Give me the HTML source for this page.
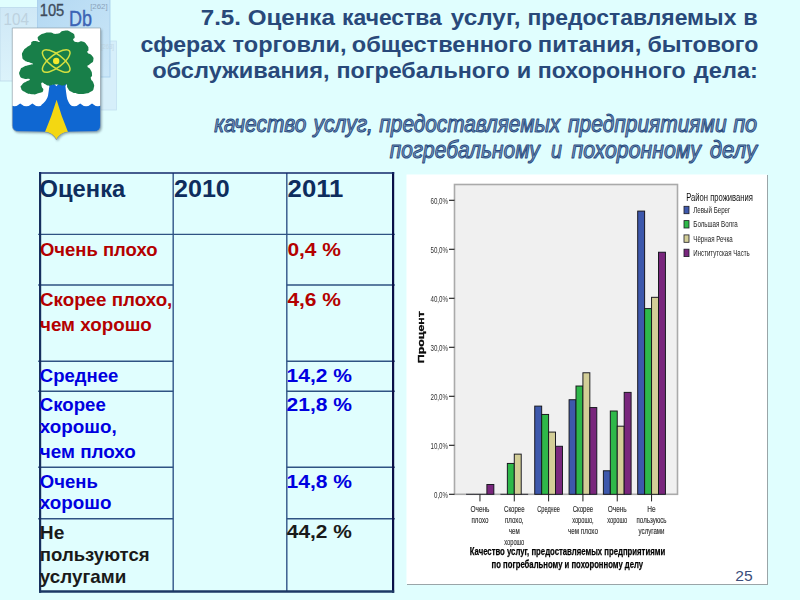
<!DOCTYPE html>
<html><head><meta charset="utf-8"><title>Slide 25</title>
<style>
html,body{margin:0;padding:0;background:#e0fefe;}
body{width:800px;height:600px;overflow:hidden;font-family:"Liberation Sans",sans-serif;}
svg{display:block;font-family:"Liberation Sans",sans-serif;}
</style></head><body>
<svg width="800" height="600" viewBox="0 0 800 600">
<defs>
<linearGradient id="t2" x1="0" y1="0" x2="1" y2="1"><stop offset="0" stop-color="#b3d8f2"/><stop offset="1" stop-color="#cbe7f8"/></linearGradient>
<linearGradient id="t1" x1="0" y1="0" x2="0" y2="1"><stop offset="0" stop-color="#cfe8f6"/><stop offset="1" stop-color="#dcf3fb"/></linearGradient>
<filter id="b3" x="-5%" y="-5%" width="110%" height="110%"><feGaussianBlur stdDeviation="0.35"/></filter>
<filter id="b5" x="-5%" y="-5%" width="110%" height="110%"><feGaussianBlur stdDeviation="0.5"/></filter>
<filter id="sh" x="-10%" y="-10%" width="125%" height="125%"><feGaussianBlur stdDeviation="1.2"/></filter>
</defs>
<rect width="800" height="600" fill="#e0fefe"/>

<g id="tiles">
<rect x="0" y="7.5" width="38" height="73.5" fill="url(#t1)" stroke="#bcd9ec" stroke-width="0.8"/>
<rect x="100" y="41" width="16.5" height="69" fill="#d6effa" stroke="#c4e0f0" stroke-width="0.8"/>
<rect x="37.5" y="-1" width="72.5" height="78" fill="url(#t2)" stroke="#a6cdeb" stroke-width="0.8"/>

<text x="3.6" y="24.6" font-size="17" font-weight="normal" font-style="normal" fill="#bdd2df" text-anchor="start" textLength="25.5" lengthAdjust="spacingAndGlyphs">104</text>
<text x="39.8" y="16" font-size="17" font-weight="normal" font-style="normal" fill="#3e4b5c" text-anchor="start" textLength="24.5" lengthAdjust="spacingAndGlyphs" stroke="#3e4b5c" stroke-width="0.35">105</text>
<text x="69" y="26" font-size="21.5" font-weight="normal" font-style="normal" fill="#3c63b4" text-anchor="start" textLength="23" lengthAdjust="spacingAndGlyphs" stroke="#3c63b4" stroke-width="0.4">Db</text>
<text x="90.2" y="9" font-size="7.5" font-weight="normal" font-style="normal" fill="#8ba3bb" text-anchor="start" textLength="17.5" lengthAdjust="spacingAndGlyphs">[262]</text>
<text x="101" y="49" font-size="6.5" font-weight="normal" font-style="normal" fill="#c0d6e4" text-anchor="start" textLength="13" lengthAdjust="spacingAndGlyphs">[263]</text>
</g>
<g id="arms">
<path d="M12.3 28 H100.5 V125.5 Q100.5 131.4 94 131.6 L68.5 131.9 Q60 132.6 56.4 139.8 Q52.8 132.6 44.3 131.9 L19 131.6 Q12.3 131.4 12.3 125.5 Z" fill="#5d7480" opacity="0.6" filter="url(#sh)" transform="translate(1.2,1.4)"/>
<clipPath id="shc"><path d="M12.3 28 H100.5 V125.5 Q100.5 131.4 94 131.6 L68.5 131.9 Q60 132.6 56.4 139.8 Q52.8 132.6 44.3 131.9 L19 131.6 Q12.3 131.4 12.3 125.5 Z"/></clipPath>
<g clip-path="url(#shc)">
<rect x="10" y="26" width="92" height="116" fill="#ffffff"/>
<path d="M8.2 103.4 Q14.20 108.9 20.2 103.4 Q26.30 108.9 32.4 103.4 Q38.40 108.9 44.4 103.4 L68.4 103.4  Q74.30 108.9 80.2 103.4 Q86.10 108.9 92 103.4 Q98.00 108.9 104 103.4 V142 H8.2 Z" fill="#0f67d2"/>
<path d="M49.4 86 Q48.6 92 48 95.7 Q47 100.5 40.5 105.8 L70.8 105.8 Q67.3 100.5 66.8 96.9 Q66 92 65.4 86 L68.5 81 L66.6 80.2 L62 85 L58.8 83.6 L56.4 86.3 L54 83.6 L51.4 85 L46.6 80.2 L44.8 81 Z" fill="#0f67d2"/>
<path d="M56.6 99.8 Q61.5 117 68 131.95 Q60 132.6 56.4 139.8 Q52.8 132.6 45 131.95 Q51.5 117 56.6 99.8 Z" fill="#f3d712"/>
</g>
<path d="M49.81 32.56 C54.22 32.68 52.21 34.40 57.02 33.76 C61.82 33.12 59.42 31.04 64.22 30.64 C69.02 30.24 67.94 30.64 71.42 32.56 C74.90 34.48 74.02 33.92 74.66 36.40 C75.30 38.88 72.42 38.08 73.34 40.00 C74.26 41.93 74.46 41.65 77.42 42.17 C80.39 42.69 79.03 40.57 82.23 41.57 C85.43 42.57 84.95 42.49 87.03 45.17 C89.11 47.85 88.31 47.13 88.47 49.61 C88.63 52.09 86.39 50.61 87.51 52.61 C88.63 54.61 89.91 53.01 91.83 55.61 C93.75 58.21 93.87 57.61 93.27 60.41 C92.67 63.21 91.95 62.01 90.03 64.01 C88.11 66.02 87.39 64.61 87.51 66.42 C87.63 68.22 88.87 66.62 90.39 69.42 C91.91 72.22 91.91 71.82 92.07 74.82 C92.23 77.82 90.47 75.82 90.87 78.42 C91.27 81.02 92.31 79.42 93.27 82.62 C94.23 85.82 94.63 84.94 93.75 88.02 C92.87 91.11 93.67 89.98 90.63 91.87 C87.59 93.75 89.03 93.07 84.63 93.67 C80.23 94.27 81.83 94.27 77.42 93.67 C73.02 93.07 74.62 93.67 71.42 91.87 C68.22 90.06 69.50 90.83 67.82 88.26 C66.14 85.70 67.98 85.14 66.38 84.18 C64.78 83.22 66.54 85.30 63.02 85.38 C59.50 85.46 60.62 84.42 55.82 84.42 C51.01 84.42 52.13 85.46 48.61 85.38 C45.09 85.30 47.45 85.10 45.25 84.18 C43.05 83.26 43.21 81.94 42.01 82.62 C40.81 83.30 41.25 83.62 41.65 86.22 C42.05 88.82 44.09 88.14 43.21 90.42 C42.33 92.71 42.81 91.79 39.01 93.07 C35.21 94.35 36.61 94.67 31.81 94.27 C27.00 93.87 28.21 93.95 24.60 91.87 C21.00 89.78 21.80 90.51 21.00 88.02 C20.20 85.54 20.40 86.58 22.20 84.42 C24.00 82.26 23.92 83.30 26.40 81.54 C28.89 79.78 30.57 80.18 29.65 79.14 C28.73 78.10 26.92 79.66 23.64 78.42 C20.36 77.18 20.92 78.22 19.80 75.42 C18.68 72.62 19.08 72.82 20.28 70.02 C21.48 67.22 20.76 68.62 23.40 67.02 C26.04 65.41 25.08 66.22 28.21 65.21 C31.33 64.21 32.45 64.97 32.77 64.01 C33.09 63.05 31.89 63.53 29.17 62.33 C26.44 61.13 26.92 62.45 24.60 60.41 C22.28 58.37 22.60 59.41 22.20 56.21 C21.80 53.01 21.80 53.81 23.40 50.81 C25.00 47.81 24.60 49.21 27.00 47.21 C29.41 45.21 29.01 46.61 30.61 44.81 C32.21 43.01 30.21 43.09 31.81 41.81 C33.41 40.53 32.81 40.93 35.41 40.97 C38.01 41.01 38.81 42.65 39.61 41.93 C40.41 41.21 37.93 40.85 37.81 38.80 C37.69 36.76 37.25 37.60 39.25 35.80 C41.25 34.00 40.29 34.48 43.81 33.40 C47.33 32.32 45.41 32.44 49.81 32.56 Z" fill="#187f49"/>
<g fill="none" stroke="#d3e040" stroke-width="1.5">
<ellipse cx="56.2" cy="61" rx="16.6" ry="6.4" transform="rotate(37 56.2 61)"/>
<ellipse cx="56.2" cy="61" rx="16.6" ry="6.4" transform="rotate(-37 56.2 61)"/>
</g>
<circle cx="56.2" cy="61" r="3.2" fill="#f3ea2e"/>
<path d="M12.3 28 H100.5 V125.5 Q100.5 131.4 94 131.6 L68.5 131.9 Q60 132.6 56.4 139.8 Q52.8 132.6 44.3 131.9 L19 131.6 Q12.3 131.4 12.3 125.5 Z" fill="none" stroke="#8799a3" stroke-width="0.6"/>
</g>

<g id="title">
<text x="200.74" y="24.8" font-size="22.5" font-weight="bold" font-style="normal" fill="#28497a" text-anchor="start" textLength="134.1" lengthAdjust="spacingAndGlyphs">7.5. Оценка</text>
<text x="342.02" y="24.8" font-size="22.5" font-weight="bold" font-style="normal" fill="#28497a" text-anchor="start" textLength="99.82" lengthAdjust="spacingAndGlyphs">качества</text>
<text x="450.83" y="24.8" font-size="22.5" font-weight="bold" font-style="normal" fill="#28497a" text-anchor="start" textLength="69.8" lengthAdjust="spacingAndGlyphs">услуг,</text>
<text x="527.42" y="24.8" font-size="22.5" font-weight="bold" font-style="normal" fill="#28497a" text-anchor="start" textLength="208.98" lengthAdjust="spacingAndGlyphs">предоставляемых</text>
<text x="743.38" y="24.8" font-size="22.5" font-weight="bold" font-style="normal" fill="#28497a" text-anchor="start" textLength="14.43" lengthAdjust="spacingAndGlyphs">в</text>
<text x="140.4" y="51.9" font-size="22.5" font-weight="bold" font-style="normal" fill="#28497a" text-anchor="start" textLength="85.47" lengthAdjust="spacingAndGlyphs">сферах</text>
<text x="232.54" y="51.9" font-size="22.5" font-weight="bold" font-style="normal" fill="#28497a" text-anchor="start" textLength="114.03" lengthAdjust="spacingAndGlyphs">торговли,</text>
<text x="351.88" y="51.9" font-size="22.5" font-weight="bold" font-style="normal" fill="#28497a" text-anchor="start" textLength="180.28" lengthAdjust="spacingAndGlyphs">общественного</text>
<text x="537.75" y="51.9" font-size="22.5" font-weight="bold" font-style="normal" fill="#28497a" text-anchor="start" textLength="103.59" lengthAdjust="spacingAndGlyphs">питания,</text>
<text x="647.46" y="51.9" font-size="22.5" font-weight="bold" font-style="normal" fill="#28497a" text-anchor="start" textLength="110.84" lengthAdjust="spacingAndGlyphs">бытового</text>
<text x="152.18" y="78.2" font-size="22.5" font-weight="bold" font-style="normal" fill="#28497a" text-anchor="start" textLength="177.49" lengthAdjust="spacingAndGlyphs">обслуживания,</text>
<text x="336.49" y="78.2" font-size="22.5" font-weight="bold" font-style="normal" fill="#28497a" text-anchor="start" textLength="173.16" lengthAdjust="spacingAndGlyphs">погребального</text>
<text x="516.87" y="78.2" font-size="22.5" font-weight="bold" font-style="normal" fill="#28497a" text-anchor="start" textLength="14.5" lengthAdjust="spacingAndGlyphs">и</text>
<text x="537.8" y="78.2" font-size="22.5" font-weight="bold" font-style="normal" fill="#28497a" text-anchor="start" textLength="147.84" lengthAdjust="spacingAndGlyphs">похоронного</text>
<text x="693.86" y="78.2" font-size="22.5" font-weight="bold" font-style="normal" fill="#28497a" text-anchor="start" textLength="64.01" lengthAdjust="spacingAndGlyphs">дела:</text>
</g>
<g id="sub">
<text x="214.27" y="131.8" font-size="23" font-weight="normal" font-style="italic" fill="#809dbf" text-anchor="start" textLength="92.08" lengthAdjust="spacingAndGlyphs" stroke="#294b7f" stroke-width="1.0" stroke-linejoin="round">качество</text>
<text x="313.6" y="131.8" font-size="23" font-weight="normal" font-style="italic" fill="#809dbf" text-anchor="start" textLength="59.23" lengthAdjust="spacingAndGlyphs" stroke="#294b7f" stroke-width="1.0" stroke-linejoin="round">услуг,</text>
<text x="379.37" y="131.8" font-size="23" font-weight="normal" font-style="italic" fill="#809dbf" text-anchor="start" textLength="180.82" lengthAdjust="spacingAndGlyphs" stroke="#294b7f" stroke-width="1.0" stroke-linejoin="round">предоставляемых</text>
<text x="568.06" y="131.8" font-size="23" font-weight="normal" font-style="italic" fill="#809dbf" text-anchor="start" textLength="158.53" lengthAdjust="spacingAndGlyphs" stroke="#294b7f" stroke-width="1.0" stroke-linejoin="round">предприятиями</text>
<text x="733.15" y="131.8" font-size="23" font-weight="normal" font-style="italic" fill="#809dbf" text-anchor="start" textLength="24.03" lengthAdjust="spacingAndGlyphs" stroke="#294b7f" stroke-width="1.0" stroke-linejoin="round">по</text>
<text x="389.67" y="157.5" font-size="23" font-weight="normal" font-style="italic" fill="#809dbf" text-anchor="start" textLength="150.02" lengthAdjust="spacingAndGlyphs" stroke="#294b7f" stroke-width="1.0" stroke-linejoin="round">погребальному</text>
<text x="550.92" y="157.5" font-size="23" font-weight="normal" font-style="italic" fill="#809dbf" text-anchor="start" textLength="10.95" lengthAdjust="spacingAndGlyphs" stroke="#294b7f" stroke-width="1.0" stroke-linejoin="round">и</text>
<text x="571.41" y="157.5" font-size="23" font-weight="normal" font-style="italic" fill="#809dbf" text-anchor="start" textLength="129.5" lengthAdjust="spacingAndGlyphs" stroke="#294b7f" stroke-width="1.0" stroke-linejoin="round">похоронному</text>
<text x="709.79" y="157.5" font-size="23" font-weight="normal" font-style="italic" fill="#809dbf" text-anchor="start" textLength="47.34" lengthAdjust="spacingAndGlyphs" stroke="#294b7f" stroke-width="1.0" stroke-linejoin="round">делу</text>
</g>
<g id="table" fill="none">
<g stroke="#3c6090" stroke-width="1.5">
<path d="M173.2 173 V591 M286.8 173 V591"/>
</g>
<g stroke="#2f5383" stroke-width="1.35">
<path d="M38.2 234.3 H394.8"/>
<path d="M38.2 285 H173.2 M286.8 285 H394.8 M38.2 361.25 H173.2 M286.8 361.25 H394.8 M38.2 391.25 H173.2 M286.8 391.25 H394.8 M38.2 467.2 H173.2 M286.8 467.2 H394.8 M38.2 518.7 H173.2 M286.8 518.7 H394.8"/>
</g>
<path d="M40.1 172 V592.7" stroke="#162f5e" stroke-width="2.2"/>
<path d="M393.1 172 V592.7" stroke="#0a1048" stroke-width="2.2"/>
<path d="M39 173 H394.2" stroke="#13286a" stroke-width="1.7"/>
<path d="M39 591.5 H394.2" stroke="#1c3965" stroke-width="2.4"/>
</g>
<g id="ttext">
<text x="39.6" y="197.3" font-size="23.3" font-weight="bold" font-style="normal" fill="#0e2d5d" text-anchor="start" textLength="85.6" lengthAdjust="spacingAndGlyphs">Оценка</text>
<text x="174" y="197.3" font-size="23.3" font-weight="bold" font-style="normal" fill="#0e2d5d" text-anchor="start" textLength="55.8" lengthAdjust="spacingAndGlyphs">2010</text>
<text x="287.6" y="197.3" font-size="23.3" font-weight="bold" font-style="normal" fill="#0e2d5d" text-anchor="start" textLength="55.8" lengthAdjust="spacingAndGlyphs">2011</text>
<text x="40" y="255.70000000000002" font-size="18.2" font-weight="bold" font-style="normal" fill="#b40000" text-anchor="start" textLength="117.5" lengthAdjust="spacingAndGlyphs">Очень плохо</text>
<text x="287.4" y="255.60000000000002" font-size="18.2" font-weight="bold" font-style="normal" fill="#b40000" text-anchor="start" textLength="53.6" lengthAdjust="spacingAndGlyphs">0,4 %</text>
<text x="40" y="305.8" font-size="18.2" font-weight="bold" font-style="normal" fill="#b40000" text-anchor="start" textLength="132.3" lengthAdjust="spacingAndGlyphs">Скорее плохо,</text>
<text x="287.4" y="305.7" font-size="18.2" font-weight="bold" font-style="normal" fill="#b40000" text-anchor="start" textLength="53.6" lengthAdjust="spacingAndGlyphs">4,6 %</text>
<text x="40" y="330.90000000000003" font-size="18.2" font-weight="bold" font-style="normal" fill="#b40000" text-anchor="start" textLength="111.8" lengthAdjust="spacingAndGlyphs">чем хорошо</text>
<text x="39.8" y="382.1" font-size="18.2" font-weight="bold" font-style="normal" fill="#0000e0" text-anchor="start" textLength="78.5" lengthAdjust="spacingAndGlyphs">Среднее</text>
<text x="286.6" y="382.1" font-size="18.2" font-weight="bold" font-style="normal" fill="#0000e0" text-anchor="start" textLength="65.4" lengthAdjust="spacingAndGlyphs">14,2 %</text>
<text x="39.8" y="411.35" font-size="18.2" font-weight="bold" font-style="normal" fill="#0000e0" text-anchor="start" textLength="66.0" lengthAdjust="spacingAndGlyphs">Скорее</text>
<text x="286.6" y="411.35" font-size="18.2" font-weight="bold" font-style="normal" fill="#0000e0" text-anchor="start" textLength="65.4" lengthAdjust="spacingAndGlyphs">21,8 %</text>
<text x="39.8" y="432.6" font-size="18.2" font-weight="bold" font-style="normal" fill="#0000e0" text-anchor="start" textLength="77.0" lengthAdjust="spacingAndGlyphs">хорошо,</text>
<text x="39.8" y="458.1" font-size="18.2" font-weight="bold" font-style="normal" fill="#0000e0" text-anchor="start" textLength="96.0" lengthAdjust="spacingAndGlyphs">чем плохо</text>
<text x="39.8" y="487.6" font-size="18.2" font-weight="bold" font-style="normal" fill="#0000e0" text-anchor="start" textLength="58.0" lengthAdjust="spacingAndGlyphs">Очень</text>
<text x="286.6" y="487.6" font-size="18.2" font-weight="bold" font-style="normal" fill="#0000e0" text-anchor="start" textLength="65.4" lengthAdjust="spacingAndGlyphs">14,8 %</text>
<text x="39.8" y="509.40000000000003" font-size="18.2" font-weight="bold" font-style="normal" fill="#0000e0" text-anchor="start" textLength="71.7" lengthAdjust="spacingAndGlyphs">хорошо</text>
<text x="39.8" y="538.8" font-size="18.2" font-weight="bold" font-style="normal" fill="#1a1a1a" text-anchor="start" textLength="24.5" lengthAdjust="spacingAndGlyphs">Не</text>
<text x="286.8" y="538.4" font-size="18.2" font-weight="bold" font-style="normal" fill="#1a1a1a" text-anchor="start" textLength="65.1" lengthAdjust="spacingAndGlyphs">44,2 %</text>
<text x="39.8" y="561.3" font-size="18.2" font-weight="bold" font-style="normal" fill="#1a1a1a" text-anchor="start" textLength="109.8" lengthAdjust="spacingAndGlyphs">пользуются</text>
<text x="39.8" y="582.8" font-size="18.2" font-weight="bold" font-style="normal" fill="#1a1a1a" text-anchor="start" textLength="86.5" lengthAdjust="spacingAndGlyphs">услугами</text>
</g>
<g id="chart">
<rect x="407" y="175" width="361" height="410" fill="#9aa5a8"/>
<rect x="406.5" y="174.5" width="360.5" height="409.5" fill="#ffffff"/>
<rect x="454.5" y="184.5" width="223" height="309.8" fill="#f0f0f0" stroke="#aaaaaa" stroke-width="1.6"/>
<g filter="url(#b3)">
<path d="M466.10 494.3 h6.93" stroke="#1c1c24" stroke-width="0.9"/>
<path d="M473.03 494.3 h6.93" stroke="#1c1c24" stroke-width="0.9"/>
<path d="M479.96 494.3 h6.93" stroke="#1c1c24" stroke-width="0.9"/>
<rect x="486.89" y="484.50" width="6.93" height="9.80" fill="#79287d" stroke="#14141c" stroke-width="0.95"/>
<path d="M500.42 494.3 h6.93" stroke="#1c1c24" stroke-width="0.9"/>
<rect x="507.35" y="463.43" width="6.93" height="30.87" fill="#2eb848" stroke="#14141c" stroke-width="0.95"/>
<rect x="514.28" y="454.12" width="6.93" height="40.18" fill="#d3ce97" stroke="#14141c" stroke-width="0.95"/>
<path d="M521.21 494.3 h6.93" stroke="#1c1c24" stroke-width="0.9"/>
<rect x="534.74" y="406.10" width="6.93" height="88.20" fill="#3e58ac" stroke="#14141c" stroke-width="0.95"/>
<rect x="541.67" y="414.43" width="6.93" height="79.87" fill="#2eb848" stroke="#14141c" stroke-width="0.95"/>
<rect x="548.60" y="432.07" width="6.93" height="62.23" fill="#d3ce97" stroke="#14141c" stroke-width="0.95"/>
<rect x="555.53" y="446.28" width="6.93" height="48.02" fill="#79287d" stroke="#14141c" stroke-width="0.95"/>
<rect x="569.06" y="399.73" width="6.93" height="94.57" fill="#3e58ac" stroke="#14141c" stroke-width="0.95"/>
<rect x="575.99" y="386.01" width="6.93" height="108.29" fill="#2eb848" stroke="#14141c" stroke-width="0.95"/>
<rect x="582.92" y="372.78" width="6.93" height="121.52" fill="#d3ce97" stroke="#14141c" stroke-width="0.95"/>
<rect x="589.85" y="407.57" width="6.93" height="86.73" fill="#79287d" stroke="#14141c" stroke-width="0.95"/>
<rect x="603.38" y="470.78" width="6.93" height="23.52" fill="#3e58ac" stroke="#14141c" stroke-width="0.95"/>
<rect x="610.31" y="411.00" width="6.93" height="83.30" fill="#2eb848" stroke="#14141c" stroke-width="0.95"/>
<rect x="617.24" y="426.19" width="6.93" height="68.11" fill="#d3ce97" stroke="#14141c" stroke-width="0.95"/>
<rect x="624.17" y="392.38" width="6.93" height="101.92" fill="#79287d" stroke="#14141c" stroke-width="0.95"/>
<rect x="637.70" y="211.08" width="6.93" height="283.22" fill="#3e58ac" stroke="#14141c" stroke-width="0.95"/>
<rect x="644.63" y="308.59" width="6.93" height="185.71" fill="#2eb848" stroke="#14141c" stroke-width="0.95"/>
<rect x="651.56" y="297.32" width="6.93" height="196.98" fill="#d3ce97" stroke="#14141c" stroke-width="0.95"/>
<rect x="658.49" y="252.24" width="6.93" height="242.06" fill="#79287d" stroke="#14141c" stroke-width="0.95"/>
</g>
<g stroke="#222" stroke-width="1" filter="url(#b3)">
<path d="M449 494.3 H454.5" stroke-width="1.15"/>
<path d="M449 445.3 H454.5" stroke-width="1.15"/>
<path d="M449 396.3 H454.5" stroke-width="1.15"/>
<path d="M449 347.3 H454.5" stroke-width="1.15"/>
<path d="M449 298.3 H454.5" stroke-width="1.15"/>
<path d="M449 249.3 H454.5" stroke-width="1.15"/>
<path d="M449 200.3 H454.5" stroke-width="1.15"/>
<path d="M479.96 494.3 V501.4"/>
<path d="M514.28 494.3 V501.4"/>
<path d="M548.60 494.3 V501.4"/>
<path d="M582.92 494.3 V501.4"/>
<path d="M617.24 494.3 V501.4"/>
<path d="M651.56 494.3 V501.4"/>
</g>
<g filter="url(#b5)">
<text x="448" y="497.6" font-size="9" font-weight="normal" font-style="normal" fill="#333" text-anchor="end" textLength="14" lengthAdjust="spacingAndGlyphs">0,0%</text>
<text x="448" y="448.6" font-size="9" font-weight="normal" font-style="normal" fill="#333" text-anchor="end" textLength="17.5" lengthAdjust="spacingAndGlyphs">10,0%</text>
<text x="448" y="399.6" font-size="9" font-weight="normal" font-style="normal" fill="#333" text-anchor="end" textLength="17.5" lengthAdjust="spacingAndGlyphs">20,0%</text>
<text x="448" y="350.6" font-size="9" font-weight="normal" font-style="normal" fill="#333" text-anchor="end" textLength="17.5" lengthAdjust="spacingAndGlyphs">30,0%</text>
<text x="448" y="301.6" font-size="9" font-weight="normal" font-style="normal" fill="#333" text-anchor="end" textLength="17.5" lengthAdjust="spacingAndGlyphs">40,0%</text>
<text x="448" y="252.60000000000002" font-size="9" font-weight="normal" font-style="normal" fill="#333" text-anchor="end" textLength="17.5" lengthAdjust="spacingAndGlyphs">50,0%</text>
<text x="448" y="203.60000000000002" font-size="9" font-weight="normal" font-style="normal" fill="#333" text-anchor="end" textLength="17.5" lengthAdjust="spacingAndGlyphs">60,0%</text>
<text x="470.46" y="512.4" font-size="9.5" font-weight="normal" font-style="normal" fill="#2e2e2e" text-anchor="start" textLength="19" lengthAdjust="spacingAndGlyphs" stroke="#2e2e2e" stroke-width="0.15">Очень</text>
<text x="471.46" y="523.15" font-size="9.5" font-weight="normal" font-style="normal" fill="#2e2e2e" text-anchor="start" textLength="17" lengthAdjust="spacingAndGlyphs" stroke="#2e2e2e" stroke-width="0.15">плохо</text>
<text x="504.03" y="512.4" font-size="9.5" font-weight="normal" font-style="normal" fill="#2e2e2e" text-anchor="start" textLength="20.5" lengthAdjust="spacingAndGlyphs" stroke="#2e2e2e" stroke-width="0.15">Скорее</text>
<text x="505.03" y="523.15" font-size="9.5" font-weight="normal" font-style="normal" fill="#2e2e2e" text-anchor="start" textLength="18.5" lengthAdjust="spacingAndGlyphs" stroke="#2e2e2e" stroke-width="0.15">плохо,</text>
<text x="508.78" y="533.9" font-size="9.5" font-weight="normal" font-style="normal" fill="#2e2e2e" text-anchor="start" textLength="11" lengthAdjust="spacingAndGlyphs" stroke="#2e2e2e" stroke-width="0.15">чем</text>
<text x="504.28" y="544.65" font-size="9.5" font-weight="normal" font-style="normal" fill="#2e2e2e" text-anchor="start" textLength="20" lengthAdjust="spacingAndGlyphs" stroke="#2e2e2e" stroke-width="0.15">хорошо</text>
<text x="537.35" y="512.4" font-size="9.5" font-weight="normal" font-style="normal" fill="#2e2e2e" text-anchor="start" textLength="22.5" lengthAdjust="spacingAndGlyphs" stroke="#2e2e2e" stroke-width="0.15">Среднее</text>
<text x="572.67" y="512.4" font-size="9.5" font-weight="normal" font-style="normal" fill="#2e2e2e" text-anchor="start" textLength="20.5" lengthAdjust="spacingAndGlyphs" stroke="#2e2e2e" stroke-width="0.15">Скорее</text>
<text x="572.17" y="523.15" font-size="9.5" font-weight="normal" font-style="normal" fill="#2e2e2e" text-anchor="start" textLength="21.5" lengthAdjust="spacingAndGlyphs" stroke="#2e2e2e" stroke-width="0.15">хорошо,</text>
<text x="567.92" y="533.9" font-size="9.5" font-weight="normal" font-style="normal" fill="#2e2e2e" text-anchor="start" textLength="30" lengthAdjust="spacingAndGlyphs" stroke="#2e2e2e" stroke-width="0.15">чем плохо</text>
<text x="607.74" y="512.4" font-size="9.5" font-weight="normal" font-style="normal" fill="#2e2e2e" text-anchor="start" textLength="19" lengthAdjust="spacingAndGlyphs" stroke="#2e2e2e" stroke-width="0.15">Очень</text>
<text x="607.24" y="523.15" font-size="9.5" font-weight="normal" font-style="normal" fill="#2e2e2e" text-anchor="start" textLength="20" lengthAdjust="spacingAndGlyphs" stroke="#2e2e2e" stroke-width="0.15">хорошо</text>
<text x="647.36" y="512.4" font-size="9.5" font-weight="normal" font-style="normal" fill="#2e2e2e" text-anchor="start" textLength="8.4" lengthAdjust="spacingAndGlyphs" stroke="#2e2e2e" stroke-width="0.15">Не</text>
<text x="636.56" y="523.15" font-size="9.5" font-weight="normal" font-style="normal" fill="#2e2e2e" text-anchor="start" textLength="30" lengthAdjust="spacingAndGlyphs" stroke="#2e2e2e" stroke-width="0.15">пользуюсь</text>
<text x="638.56" y="533.9" font-size="9.5" font-weight="normal" font-style="normal" fill="#2e2e2e" text-anchor="start" textLength="26" lengthAdjust="spacingAndGlyphs" stroke="#2e2e2e" stroke-width="0.15">услугами</text>
<text x="686.3" y="200.9" font-size="10.5" font-weight="normal" font-style="normal" fill="#111" text-anchor="start" textLength="66.5" lengthAdjust="spacingAndGlyphs">Район проживания</text>
<rect x="684" y="206.3" width="5" height="7.4" fill="#3e58ac" stroke="#1c1c24" stroke-width="0.8"/>
<text x="693.3" y="213.0" font-size="9" font-weight="normal" font-style="normal" fill="#222" text-anchor="start" textLength="37" lengthAdjust="spacingAndGlyphs">Левый Берег</text>
<rect x="684" y="220.6" width="5" height="7.4" fill="#2eb848" stroke="#1c1c24" stroke-width="0.8"/>
<text x="693.3" y="227.3" font-size="9" font-weight="normal" font-style="normal" fill="#222" text-anchor="start" textLength="44.5" lengthAdjust="spacingAndGlyphs">Большая Волга</text>
<rect x="684" y="234.9" width="5" height="7.4" fill="#d3ce97" stroke="#1c1c24" stroke-width="0.8"/>
<text x="693.3" y="241.6" font-size="9" font-weight="normal" font-style="normal" fill="#222" text-anchor="start" textLength="39.5" lengthAdjust="spacingAndGlyphs">Чёрная Речка</text>
<rect x="684" y="249.2" width="5" height="7.4" fill="#79287d" stroke="#1c1c24" stroke-width="0.8"/>
<text x="693.3" y="255.9" font-size="9" font-weight="normal" font-style="normal" fill="#222" text-anchor="start" textLength="56.5" lengthAdjust="spacingAndGlyphs">Институтская Часть</text>
<text x="0" y="0" font-size="9.8" font-weight="bold" font-style="normal" fill="#080808" text-anchor="start" textLength="52" lengthAdjust="spacingAndGlyphs" stroke="#080808" stroke-width="0.3" transform="translate(424 363.2) rotate(-90)">Процент</text>
<text x="469.7" y="554.6" font-size="11" font-weight="bold" font-style="normal" fill="#050505" text-anchor="start" textLength="195.5" lengthAdjust="spacingAndGlyphs" stroke="#050505" stroke-width="0.25">Качество услуг, предоставляемых предприятиями</text>
<text x="491.6" y="567.9" font-size="11" font-weight="bold" font-style="normal" fill="#050505" text-anchor="start" textLength="151.5" lengthAdjust="spacingAndGlyphs" stroke="#050505" stroke-width="0.25">по погребальному и похоронному делу</text>
</g>
</g>
<text x="735.3" y="580.6" font-size="14.8" font-weight="normal" font-style="normal" fill="#3c4f7c" text-anchor="start" textLength="17.4" lengthAdjust="spacingAndGlyphs">25</text>
</svg></body></html>
